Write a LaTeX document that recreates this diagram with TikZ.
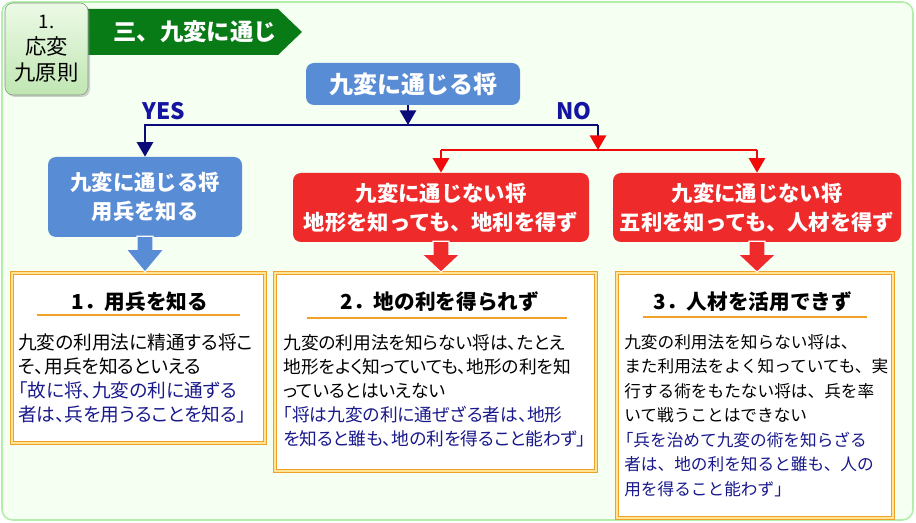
\documentclass[tikz,border=0pt]{standalone}
\usepackage{fontspec}
\setmainfont{Noto Sans CJK JP}
\newfontfamily\jpprop[RawFeature=+palt]{Noto Sans CJK JP}
\usetikzlibrary{arrows.meta, calc, shadows}

\definecolor{framegreen}{RGB}{180,238,172}
\definecolor{framefill}{RGB}{245,255,242}
\definecolor{bannergreen}{RGB}{8,122,22}
\definecolor{tabedge}{RGB}{128,148,124}
\definecolor{tabtop}{RGB}{236,250,230}
\definecolor{tabbottom}{RGB}{192,230,178}
\definecolor{boxblue}{RGB}{88,140,212}
\definecolor{boxred}{RGB}{238,42,42}
\definecolor{linenavy}{RGB}{10,10,120}
\definecolor{labelnavy}{RGB}{20,20,160}
\definecolor{linered}{RGB}{240,10,10}
\definecolor{rimorange}{RGB}{240,162,40}
\definecolor{rimlight}{RGB}{255,228,150}
\definecolor{quoteblue}{RGB}{25,25,140}

% thick down arrow between a box and the note below it
\newcommand{\fatarrow}[3]{%
  \filldraw[fill=#3, draw=white, line width=0.8pt]
    ($(#1.south)+(-8,-1)$) -- ($(#1.south)+(-8,12)$) -- ($(#1.south)+(-19,12)$)
    -- (#1.south |- #2.north) -- ($(#1.south)+(19,12)$) -- ($(#1.south)+(8,12)$)
    -- ($(#1.south)+(8,-1)$) -- cycle;}

\begin{document}
\begin{tikzpicture}[
  x=0.75pt, y=-0.75pt,
  every node/.style={inner sep=0pt},
  tabbox/.style={draw=tabedge, rounded corners=6pt, top color=tabtop, bottom color=tabbottom,
    drop shadow={opacity=0.35, shadow xshift=1.5pt, shadow yshift=-1.5pt},
    align=center, font=\fontsize{16}{19.5}\selectfont},
  flowbox/.style={rounded corners=6pt, text=white, align=center,
    font=\bfseries\fontsize{16}{21.75}\selectfont},
  notebox/.style={draw=rimorange, double=rimlight, double distance=1.1pt, line width=1.3pt, fill=white},
  notetitle/.style={font=\bfseries\fontsize{15.5}{18}\selectfont},
  notetext/.style={anchor=north west, align=left, font=\jpprop\fontsize{13.3}{18}\selectfont},
  yesno/.style={text=labelnavy, font=\bfseries\fontsize{17}{17}\selectfont},
  navyline/.style={draw=linenavy, line width=2.2pt},
  redline/.style={draw=linered, line width=2.2pt},
  tip/.style={-{Triangle[length=11pt, width=12pt]}}
]
\useasboundingbox (0,0) rectangle (916,523);
\draw[framegreen, fill=framefill, line width=1.2pt, rounded corners=8pt] (2,2) rectangle (913,520);

% heading
\fill[bannergreen] (88,9) -- (278,9) -- (302,32) -- (278,55) -- (88,55) -- cycle;
\node[text=white, font=\bfseries\fontsize{17.5}{20}\selectfont] (banner) at (195,32) {三、九変に通じ};
\node[tabbox, minimum width=62.25pt, minimum height=69pt] (tab) at (46.5,49)
  {{\fontsize{14}{19.5}\selectfont 1.}\\応変\\九原則};

% decision boxes
\node[flowbox, fill=boxblue, minimum width=160.5pt, minimum height=31.5pt,
  font=\bfseries\fontsize{18}{20}\selectfont] (top) at (413,84) {九変に通じる将};
\node[flowbox, fill=boxblue, minimum width=145.5pt, minimum height=60pt] (yesbox) at (145,197)
  {九変に通じる将\\用兵を知る};
\node[flowbox, fill=boxred, minimum width=222pt, minimum height=51.75pt] (nobox1) at (441,207.5)
  {九変に通じない将\\地形を知っても、地利を得ず};
\node[flowbox, fill=boxred, minimum width=216pt, minimum height=51.75pt] (nobox2) at (757,207.5)
  {九変に通じない将\\五利を知っても、人材を得ず};

% notes
\node[notebox, minimum width=189.75pt, minimum height=127.5pt] (note1) at (138.5,358) {};
\node[notebox, minimum width=240.75pt, minimum height=148.5pt] (note2) at (435.5,372) {};
\node[notebox, minimum width=207pt, minimum height=183.75pt] (note3) at (755,395.5) {};

\node[notetitle] (t1) at (140,302) {1．用兵を知る};
\node[notetitle] (t2) at (440,302) {2．地の利を得られず};
\node[notetitle] (t3) at (753,302) {3．人材を活用できず};
\draw[rimorange, line width=1.5pt] (37,315) -- (240,315);
\draw[rimorange, line width=1.5pt] (307,318) -- (567,318);
\draw[rimorange, line width=1.5pt] (643,317) -- (867,317);

\node[notetext, font=\jpprop\fontsize{14}{18}\selectfont] (b1) at (18,334)
  {九変の利用法に精通する将こ\\
   そ、用兵を知るといえる\\
   \textcolor{quoteblue}{「故に将、九変の利に通ずる}\\
   \textcolor{quoteblue}{者は、兵を用うることを知る」}};
\node[notetext] (b2) at (283,334)
  {九変の利用法を知らない将は、たとえ\\
   地形をよく知っていても、地形の利を知\\
   っているとはいえない\\
   \textcolor{quoteblue}{「将は九変の利に通ぜざる者は、地形}\\
   \textcolor{quoteblue}{を知ると雖も、地の利を得ること能わず」}};
\node[notetext, font=\fontsize{12.5}{18.4}\selectfont] (b3) at (624,334)
  {九変の利用法を知らない将は、\\
   また利用法をよく知っていても、実\\
   行する術をもたない将は、兵を率\\
   いて戦うことはできない\\
   \textcolor{quoteblue}{\hspace*{-0.45em}「兵を治めて九変の術を知らざる}\\
   \textcolor{quoteblue}{者は、地の利を知ると雖も、人の}\\
   \textcolor{quoteblue}{用を得ること能わず」}};

% branches
\coordinate (split) at (408,125);
\coordinate (redjoin) at (598,150);
\coordinate (yesturn) at (yesbox.north |- split);
\coordinate (noturn) at (redjoin |- split);
\draw[navyline, tip] (top.south -| split) -- (split);
\draw[navyline, tip] (noturn) -- (yesturn) -- (yesbox.north);
\draw[navyline, -{Triangle[length=11pt, width=12pt, color=linered]}] (noturn) -- (redjoin);
\draw[redline] (nobox1.north |- redjoin) -- (nobox2.north |- redjoin);
\draw[redline, tip] (nobox1.north |- redjoin) -- (nobox1.north);
\draw[redline, tip] (nobox2.north |- redjoin) -- (nobox2.north);
\node[yesno] (yes) at (164,111) {YES};
\node[yesno] (no) at (574,111) {NO};

\fatarrow{yesbox}{note1}{boxblue}
\fatarrow{nobox1}{note2}{boxred}
\fatarrow{nobox2}{note3}{boxred}
\end{tikzpicture}
\end{document}
